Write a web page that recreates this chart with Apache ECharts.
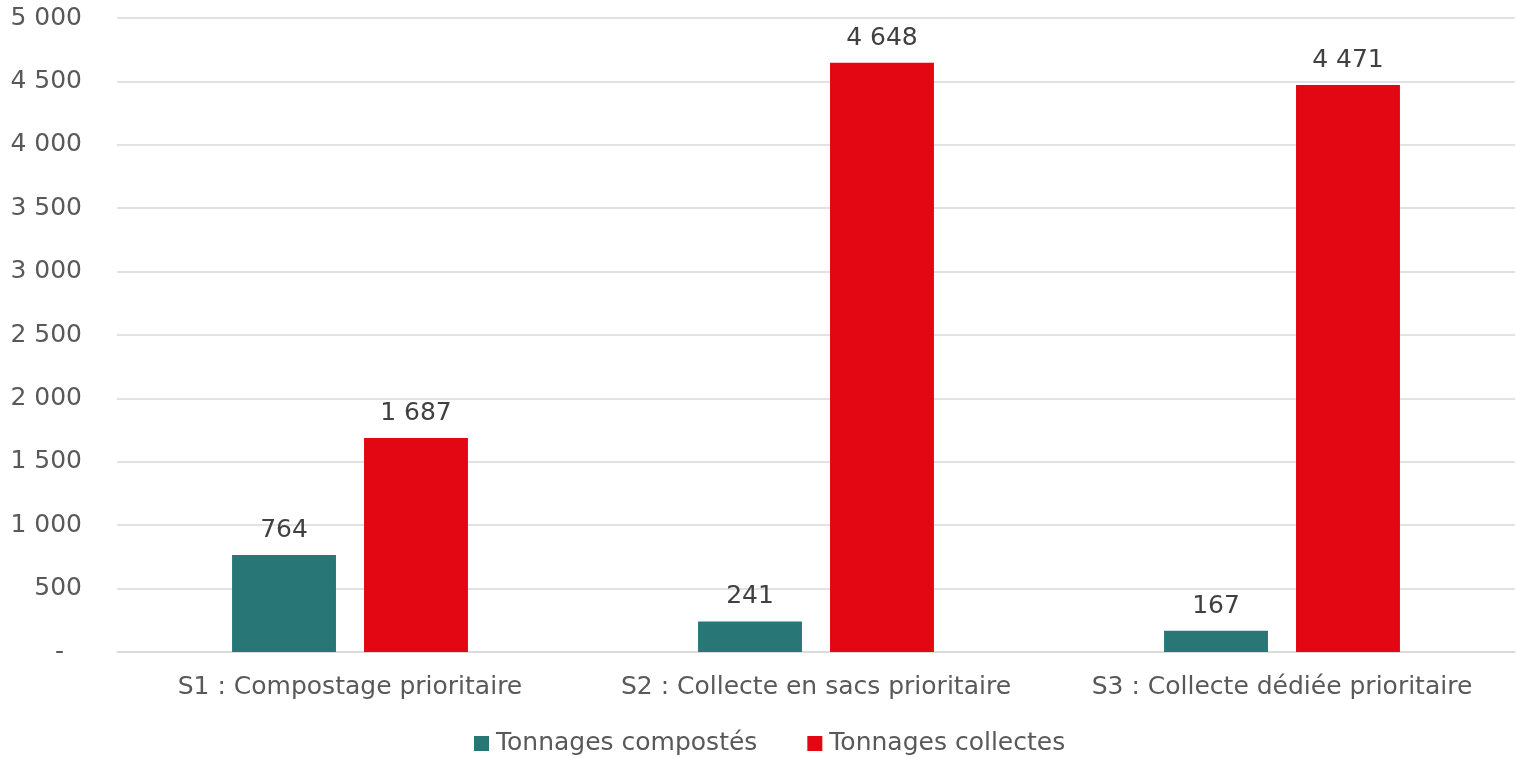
<!DOCTYPE html>
<html><head><meta charset="utf-8">
<script src="https://cdn.jsdelivr.net/npm/echarts@6/dist/echarts.min.js"></script>
<style>html,body{margin:0;padding:0;background:#fff}#c{width:1517px;height:758px}</style>
</head><body><div id="c"></div>
<script>
const categories = ["S1 : Compostage prioritaire", "S2 : Collecte en sacs prioritaire", "S3 : Collecte dédiée prioritaire"];
const seriesNames = ["Tonnages compostés", "Tonnages collectes"];
const composted = [764, 241, 167];
const collected = [1687, 4648, 4471];
const yTicks = [0, 500, 1000, 1500, 2000, 2500, 3000, 3500, 4000, 4500, 5000];

function fmt(v){
  if (v === 0) return '-';
  return String(Math.round(v)).replace(/\B(?=(\d{3})+(?!\d))/g, ' ');
}
const FONT = '"DejaVu Sans", Verdana, sans-serif';
const FS = 25;
const chart = echarts.init(document.getElementById('c'));
chart.setOption({
  animation: false,
  textStyle: {fontFamily: FONT},
  grid: {left: 117, right: 2, top: 18, bottom: 106, containLabel: false},
  legend: {
    top: 726, left: 469,
    itemWidth: 15, itemHeight: 15, itemGap: 50,
    icon: 'rect',
    textStyle: {fontFamily: FONT, fontSize: FS, color: '#595959', padding: [0, 0, 0, 2]},
    data: seriesNames
  },
  xAxis: {
    type: 'category', data: categories,
    axisLine: {lineStyle: {color: '#d9d9d9', width: 1.5}},
    axisTick: {show: false},
    axisLabel: {fontFamily: FONT, fontSize: FS, color: '#595959', margin: 23, interval: 0}
  },
  yAxis: {
    type: 'value', min: yTicks[0], max: yTicks[yTicks.length-1], interval: yTicks[1]-yTicks[0],
    axisLine: {show: false}, axisTick: {show: false},
    splitLine: {lineStyle: {color: '#d9d9d9', width: 1.5}},
    axisLabel: {
      fontFamily: FONT, fontSize: FS, color: '#595959', margin: 35,
      formatter: v => v === 0 ? '{d|-}' : fmt(v),
      rich: {d: {fontFamily: FONT, fontSize: FS, color: '#595959', padding: [0, 18, 0, 0]}}
    }
  },
  series: [
    {name: seriesNames[0], type: 'bar', data: composted, barWidth: '22.3%', barGap: '27%',
     itemStyle: {color: '#287676'},
     label: {show: true, position: 'top', distance: 12, fontFamily: FONT, fontSize: FS, color: '#404040', formatter: p => fmt(p.value)}},
    {name: seriesNames[1], type: 'bar', data: collected, barWidth: '22.3%', barGap: '27%',
     itemStyle: {color: '#e30613'},
     label: {show: true, position: 'top', distance: 12, fontFamily: FONT, fontSize: FS, color: '#404040', formatter: p => fmt(p.value)}}
  ]
});
</script></body></html>
